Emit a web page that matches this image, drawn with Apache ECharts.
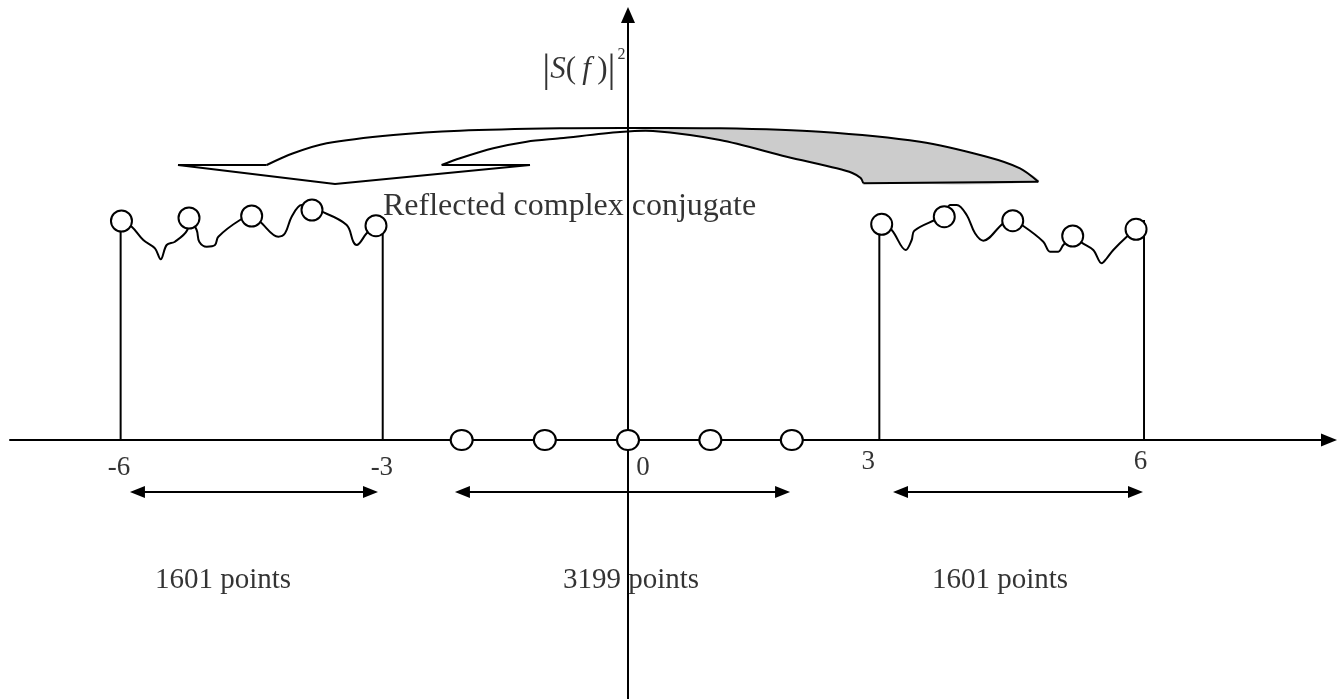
<!DOCTYPE html>
<html><head><meta charset="utf-8">
<script src="https://cdn.jsdelivr.net/npm/echarts/dist/echarts.min.js"></script>
<style>html,body{margin:0;padding:0;background:#fff}#c{width:1338px;height:699px}</style>
</head><body><div id="c"></div>
<script>
// ---------- data (f units on x, |S(f)|^2 level on y) ----------
const tickLabels = ['-6', '-3', '0', '3', '6'];
const tickLabelX = [-6.06, -2.93, 0.18, 2.86, 6.10];
const tickLabelY = [-0.28, -0.28, -0.28, -0.22, -0.22];

const axisSampleX = [-1.98, -0.99, 0.0, 0.98, 1.95];

const leftCircleX = [-6.03, -5.226, -4.48, -3.762, -3.0];
const leftCircleY = [2.19, 2.22, 2.24, 2.30, 2.143];
const leftCurve = [[-6.03,2.19],[-5.908,2.133],[-5.77,2.0],[-5.631,1.917],[-5.563,1.807],[-5.492,1.95],[-5.393,1.983],[-5.246,2.1],[-5.226,2.22],[-5.135,2.1],[-5.104,1.983],[-5.015,1.933],[-4.917,1.95],[-4.877,2.033],[-4.619,2.2],[-4.48,2.24],[-4.381,2.183],[-4.163,2.033],[-4.083,2.067],[-4.004,2.233],[-3.885,2.35],[-3.762,2.30],[-3.646,2.283],[-3.349,2.15],[-3.27,1.983],[-3.23,1.95],[-3.111,2.067],[-3.0,2.143]];
const leftEdges = [[-6.04, 2.19], [-2.92, 2.18]];

const rightCircleX = [3.02, 3.765, 4.58, 5.294, 6.048];
const rightCircleY = [2.157, 2.233, 2.193, 2.04, 2.107];
const rightCurve = [[3.02,2.157],[3.139,2.10],[3.306,1.90],[3.377,2.00],[3.408,2.093],[3.655,2.20],[3.765,2.233],[3.833,2.35],[3.913,2.35],[4.032,2.25],[4.131,2.067],[4.23,1.993],[4.468,2.167],[4.58,2.193],[4.706,2.14],[4.944,1.983],[5.024,1.883],[5.123,1.883],[5.182,1.95],[5.294,2.04],[5.401,1.973],[5.539,1.90],[5.639,1.767],[5.699,1.817],[5.777,1.90],[5.937,2.033],[6.048,2.107]];
const rightEdges = [[2.992, 2.157], [6.143, 2.20]];

// curved "reflection" arrow outline
const upperCurve = [[-4.301,2.75],[-3.985,2.867],[-3.587,2.967],[-2.794,3.05],[-2.0,3.093],[-0.81,3.117],[0,3.12],[1.095,3.117],[2.286,3.083],[3.476,2.983],[4.27,2.833],[4.667,2.717],[4.885,2.583]];
const lowerCurve = [[-2.218,2.75],[-2.0,2.817],[-1.604,2.917],[-1.206,2.983],[-0.81,3.017],[-0.095,3.08],[0.298,3.09],[1.095,3.0],[1.889,2.833],[2.485,2.717],[2.67,2.67],[2.77,2.62],[2.801,2.567]];
const arrowHead = [[-4.301,2.75],[-5.357,2.75],[-3.488,2.56],[-1.167,2.75],[-2.218,2.75]];
const tailBase = [[2.801,2.567],[4.885,2.583]];

// span arrows and annotation texts
const spanArrows = [[-5.929, -2.976, -0.52], [-2.06, 1.929, -0.52], [3.155, 6.131, -0.52]];
const spanTexts = ['1601 points', '3199 points', '1601 points'];
const spanTextX = [-4.821, 0.036, 4.429];
const spanTextY = [-1.40, -1.40, -1.40];
const noteText = 'Reflected complex conjugate';
const notePos = [-2.917, 2.33];
const yTitlePos = [-0.03, 3.70];

// ---------- chart ----------
const FONT = '"Liberation Serif", "Times New Roman", serif';
const chart = echarts.init(document.getElementById('c'), null, {renderer: 'canvas'});

const band = upperCurve.filter(p => p[0] >= 0)
  .concat(lowerCurve.filter(p => p[0] >= 0).slice().reverse());

function circleSeries(xs, ys, size) {
  return {
    type: 'scatter', z: 5, symbol: 'circle', symbolSize: size,
    itemStyle: {color: '#fff', borderColor: '#000', borderWidth: 2, opacity: 1},
    emphasis: {disabled: true}, silent: true,
    data: xs.map((x, i) => [x, ys[i]])
  };
}
function lineSeries(data, smooth) {
  return {
    type: 'line', z: 4, smooth: smooth, symbol: 'none', silent: true,
    lineStyle: {color: '#000', width: 2}, data: data, animation: false
  };
}

const series = [];
series.push(lineSeries(leftCurve, 0.35));
series.push(lineSeries(rightCurve, 0.35));
leftEdges.concat(rightEdges).forEach(e => series.push(lineSeries([[e[0], 0], [e[0], e[1]]], false)));
series.push(circleSeries(leftCircleX, leftCircleY, 21));
series.push(circleSeries(rightCircleX, rightCircleY, 21));
series.push(circleSeries(axisSampleX, axisSampleX.map(() => 0), [22, 20]));

// curved arrow
series.push({
  type: 'custom', z: 3, silent: true, clip: false, data: [[0, 0]],
  renderItem: function (params, api) {
    const c = p => api.coord(p);
    const st = {stroke: '#000', lineWidth: 2, fill: null};
    return {type: 'group', children: [
      {type: 'polygon', shape: {points: band.map(c), smooth: 0.3}, style: {fill: '#cccccc', stroke: null}},
      {type: 'polyline', shape: {points: upperCurve.map(c), smooth: 0.3}, style: st},
      {type: 'polyline', shape: {points: lowerCurve.map(c), smooth: 0.3}, style: st},
      {type: 'polyline', shape: {points: arrowHead.map(c)}, style: st},
      {type: 'polyline', shape: {points: tailBase.map(c)}, style: st}
    ]};
  }
});

// double-headed span arrows
series.push({
  type: 'custom', z: 3, silent: true, clip: false, data: spanArrows,
  renderItem: function (params, api) {
    const p1 = api.coord([api.value(0), api.value(2)]);
    const p2 = api.coord([api.value(1), api.value(2)]);
    const L = 15, W = 6;
    return {type: 'group', children: [
      {type: 'line', shape: {x1: p1[0] + L - 2, y1: p1[1], x2: p2[0] - L + 2, y2: p2[1]}, style: {stroke: '#000', lineWidth: 2}},
      {type: 'polygon', shape: {points: [[p1[0], p1[1]], [p1[0] + L, p1[1] - W], [p1[0] + L, p1[1] + W]]}, style: {fill: '#000'}},
      {type: 'polygon', shape: {points: [[p2[0], p2[1]], [p2[0] - L, p2[1] - W], [p2[0] - L, p2[1] + W]]}, style: {fill: '#000'}}
    ]};
  }
});

// texts
const baseText = {color: '#000', fontFamily: FONT, textBorderWidth: 0, textShadowBlur: 0};
const textItems = [];
tickLabels.forEach((t, i) => textItems.push({
  value: [tickLabelX[i], tickLabelY[i]],
  label: Object.assign({show: true, position: 'inside', formatter: t, fontSize: 27}, baseText)
}));
spanTexts.forEach((t, i) => textItems.push({
  value: [spanTextX[i], spanTextY[i]],
  label: Object.assign({show: true, position: 'inside', formatter: t, fontSize: 29}, baseText)
}));
textItems.push({
  value: notePos,
  label: Object.assign({show: true, position: 'right', distance: 0, formatter: noteText, fontSize: 32}, baseText)
});
textItems.push({
  value: yTitlePos,
  label: {
    show: true, position: 'left', distance: 0, color: '#000', textBorderWidth: 0,
    formatter: '{bar||}{it|S}{n|(}{it|\u2009f\u2009}{n|)}{bar||}{sup|2}',
    rich: {
      bar: {fontFamily: FONT, fontSize: 40, lineHeight: 46, color: '#000'},
      it: {fontFamily: FONT, fontStyle: 'italic', fontSize: 31, lineHeight: 46, color: '#000'},
      n: {fontFamily: FONT, fontSize: 31, lineHeight: 46, color: '#000'},
      sup: {fontFamily: FONT, fontSize: 16, lineHeight: 46, verticalAlign: 'top', padding: [0, 0, 24, 2], color: '#000'}
    }
  }
});
series.push({type: 'scatter', z: 6, symbolSize: 0, silent: true, itemStyle: {color: '#000'}, data: textItems});

chart.setOption({
  animation: false,
  backgroundColor: '#fff',
  grid: {left: 10, right: 9, top: 15, bottom: 0, containLabel: false},
  xAxis: {
    type: 'value', min: -7.357, max: 8.345,
    axisLine: {show: true, onZero: true, symbol: ['none', 'triangle'], symbolSize: [13, 16], lineStyle: {color: '#000', width: 2}},
    axisTick: {show: false}, axisLabel: {show: false}, splitLine: {show: false}
  },
  yAxis: {
    type: 'value', min: -2.59, max: 4.25,
    axisLine: {show: true, onZero: true, symbol: ['none', 'triangle'], symbolSize: [14, 16], lineStyle: {color: '#000', width: 2}},
    axisTick: {show: false}, axisLabel: {show: false}, splitLine: {show: false}
  },
  series: series
});
</script></body></html>
